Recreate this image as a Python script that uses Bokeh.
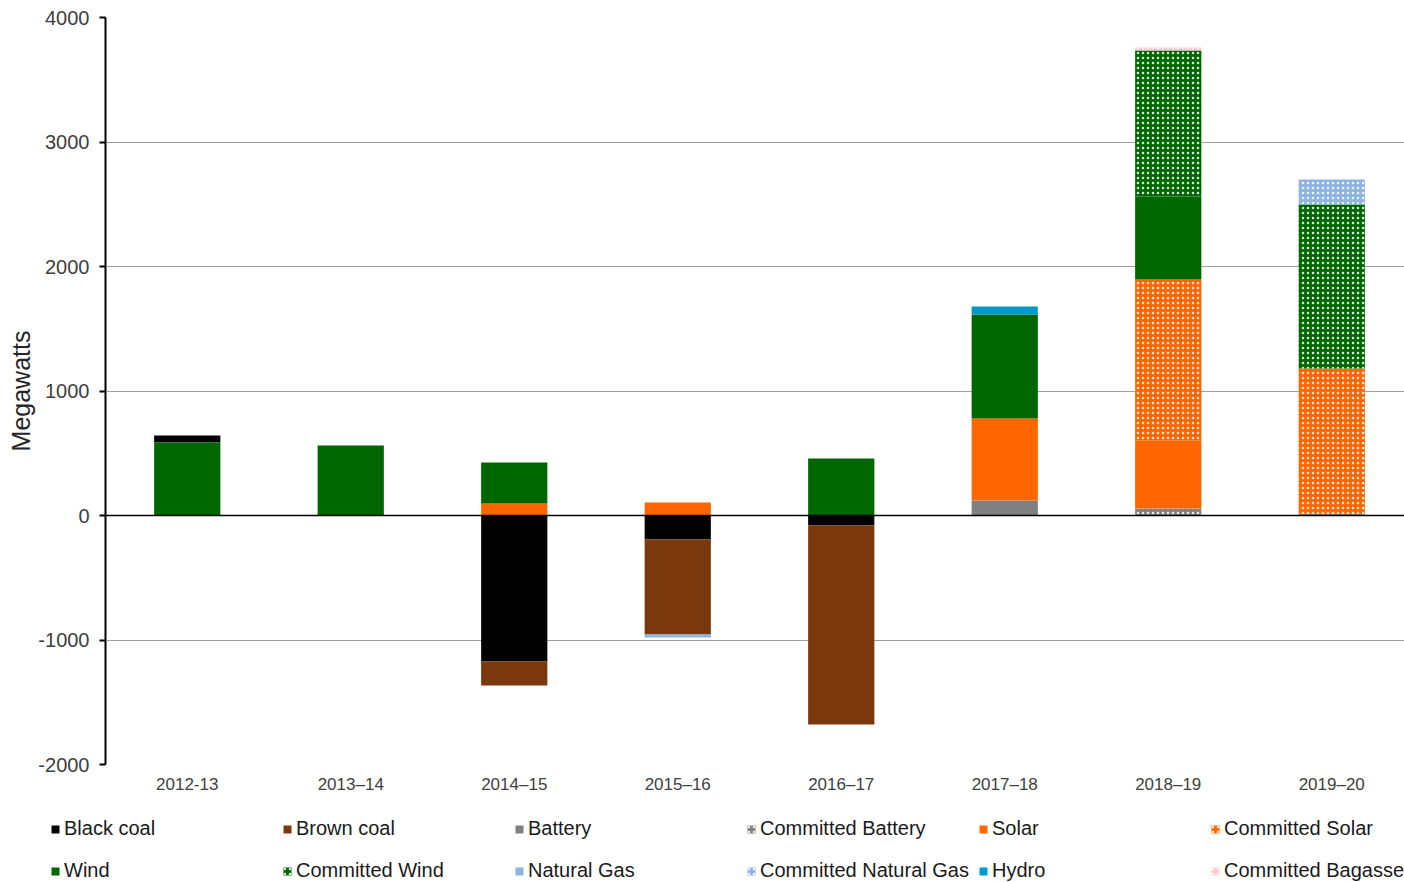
from bokeh.plotting import figure
from bokeh.layouts import column, row
from bokeh.models import ColumnDataSource, Range1d, Span, Legend, LegendItem, FixedTicker
from bokeh.embed import file_html
from bokeh.resources import INLINE

years = ["2012-13", "2013–14", "2014–15", "2015–16", "2016–17", "2017–18", "2018–19", "2019–20"]

black_coal = [57, 0, -1173, -193, -80, 0, 0, 0]
brown_coal = [0, 0, -192, -763, -1599, 0, 0, 0]
battery = [0, 0, 0, 0, 0, 120, 0, 0]
committed_battery = [0, 0, 0, 0, 0, 0, 56, 15]
solar = [0, 0, 96, 104, 0, 659, 546, 0]
committed_solar = [0, 0, 0, 0, 0, 0, 1294, 1166]
wind = [586, 562, 330, 0, 458, 835, 666, 0]
committed_wind = [0, 0, 0, 0, 0, 0, 1173, 1317]
natural_gas = [0, 0, 0, -24, 0, 0, 0, 0]
committed_natural_gas = [0, 0, 0, 0, 0, 0, 0, 201]
hydro = [0, 0, 0, 0, 0, 65, 0, 0]
committed_bagasse = [0, 0, 0, 0, 0, 0, 24, 0]

series = [
    ("Black coal", black_coal, "#000000", False),
    ("Brown coal", brown_coal, "#7A380C", False),
    ("Battery", battery, "#808080", False),
    ("Committed Battery", committed_battery, "#808080", True),
    ("Solar", solar, "#FF6600", False),
    ("Committed Solar", committed_solar, "#FF6600", True),
    ("Wind", wind, "#006600", False),
    ("Committed Wind", committed_wind, "#006600", True),
    ("Natural Gas", natural_gas, "#8DB4E2", False),
    ("Committed Natural Gas", committed_natural_gas, "#8DB4E2", True),
    ("Hydro", hydro, "#0099CC", False),
    ("Committed Bagasse", committed_bagasse, "#FFC7CE", True),
]

pos_order = ["Battery", "Committed Battery", "Solar", "Committed Solar", "Wind", "Committed Wind",
             "Natural Gas", "Committed Natural Gas", "Hydro", "Committed Bagasse", "Black coal", "Brown coal"]
neg_order = ["Black coal", "Brown coal", "Battery", "Committed Battery", "Solar", "Committed Solar",
             "Wind", "Committed Wind", "Natural Gas", "Committed Natural Gas", "Hydro", "Committed Bagasse"]

# category centres on a numeric axis (one unit per category)
xpos = [i + 0.5 for i in range(len(years))]

lookup = {s[0]: s for s in series}
bottoms = {}
tops = {}
pos_acc = [0.0] * len(years)
neg_acc = [0.0] * len(years)
for name in pos_order:
    vals = lookup[name][1]
    b = list(pos_acc); t = list(pos_acc)
    for i, v in enumerate(vals):
        if v > 0:
            b[i] = pos_acc[i]; t[i] = pos_acc[i] + v; pos_acc[i] += v
    bottoms[name] = b; tops[name] = t
for name in neg_order:
    vals = lookup[name][1]
    for i, v in enumerate(vals):
        if v < 0:
            bottoms[name][i] = neg_acc[i]; tops[name][i] = neg_acc[i] + v; neg_acc[i] += v

p = figure(x_range=Range1d(0, 7.945), y_range=Range1d(-2000, 4000), width=1404, height=796,
           output_backend="svg", toolbar_location=None,
           min_border_left=105, min_border_right=0, min_border_top=17, min_border_bottom=30)
p.outline_line_color = None
p.background_fill_color = "white"

def style_kw(color, hatched):
    kw = dict(fill_color=color, line_color=None)
    if hatched:
        kw.update(hatch_pattern="dot", hatch_color="white", hatch_scale=5, hatch_weight=3, hatch_alpha=0.85)
    return kw

sources = {}
for name, vals, color, hatched in series:
    src = ColumnDataSource(dict(x=xpos, top=tops[name], bottom=bottoms[name]))
    sources[name] = src
    p.vbar(x="x", top="top", bottom="bottom", width=0.405, source=src, **style_kw(color, hatched))

p.add_layout(Span(location=0, dimension="width", line_color="#000000", line_width=1.3))

p.xgrid.grid_line_color = None
p.ygrid.grid_line_color = "#a0a0a0"
p.ygrid.grid_line_width = 1

yticks = [-2000, -1000, 0, 1000, 2000, 3000, 4000]
p.yaxis.ticker = FixedTicker(ticks=yticks)
p.yaxis.major_label_overrides = {t: str(t) for t in yticks}
p.yaxis.axis_line_width = 2
p.yaxis.axis_line_color = "#000000"
p.yaxis.major_tick_out = 6
p.yaxis.major_tick_in = 0
p.yaxis.major_tick_line_width = 2
p.yaxis.minor_tick_line_color = None
p.yaxis.major_label_text_font = "Liberation Sans"
p.yaxis.major_label_text_font_size = "20px"
p.yaxis.major_label_text_color = "#404040"
p.yaxis.major_label_standoff = 10
p.yaxis.axis_label = "Megawatts"
p.yaxis.axis_label_text_font = "Liberation Sans"
p.yaxis.axis_label_text_font_size = "25px"
p.yaxis.axis_label_text_font_style = "normal"
p.yaxis.axis_label_text_color = "#262626"
p.yaxis.axis_label_standoff = 0

p.xaxis.ticker = FixedTicker(ticks=xpos)
p.xaxis.major_label_overrides = {x: y for x, y in zip(xpos, years)}
p.xaxis.axis_line_color = None
p.xaxis.major_tick_line_color = None
p.xaxis.major_tick_out = 0
p.xaxis.major_tick_in = 0
p.xaxis.minor_tick_line_color = None
p.xaxis.major_label_text_font = "Liberation Sans"
p.xaxis.major_label_text_font_size = "17px"
p.xaxis.major_label_text_color = "#404040"
p.xaxis.major_label_standoff = 10

# legend panel (bars of the same sources, kept out of its visible y range)
p2 = figure(width=1404, height=86, x_range=Range1d(0, 7.945), y_range=Range1d(100000, 100001),
            x_axis_type=None, y_axis_type=None, output_backend="svg", toolbar_location=None,
            min_border=0, min_border_left=0, min_border_right=0, min_border_top=0, min_border_bottom=0)
p2.outline_line_color = None
p2.xgrid.grid_line_color = None
p2.ygrid.grid_line_color = None

legend_renderers = {}
for name, vals, color, hatched in series:
    legend_renderers[name] = p2.vbar(x="x", top="top", bottom="bottom", width=0.4,
                                     source=sources[name], **style_kw(color, hatched))

names = [s[0] for s in series]
rows_ = [names[0:6], names[6:12]]
locs = [(50, 42), (50, 0)]
for items_row, loc in zip(rows_, locs):
    items = [LegendItem(label=n, renderers=[legend_renderers[n]]) for n in items_row]
    lg = Legend(items=items, orientation="horizontal", location=loc,
                glyph_width=10, glyph_height=10, label_height=20, label_width=212,
                label_standoff=4, spacing=6, padding=0, margin=0,
                label_text_font="Liberation Sans", label_text_font_size="20px",
                label_text_color="#1a1a1a", border_line_color=None,
                background_fill_alpha=0)
    p2.add_layout(lg, "center")

layout = column(p, row(p2), spacing=0)
open("out.html", "w").write(file_html(layout, INLINE))
